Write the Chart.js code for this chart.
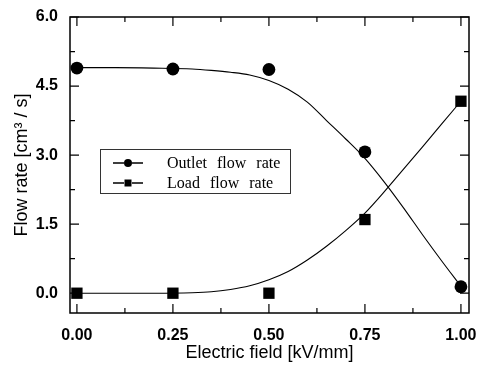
<!DOCTYPE html>
<html>
<head>
<meta charset="utf-8">
<script src="https://cdn.jsdelivr.net/npm/chart.js@4/dist/chart.umd.min.js"></script>
<style>
html,body{margin:0;padding:0;background:#fff;}
#wrap{width:479px;height:367px;position:relative;}
</style>
</head>
<body>
<div id="wrap"><canvas id="c" width="479" height="367"></canvas></div>
<script>
// Measured points
const fieldValues = [0, 0.25, 0.5, 0.75, 1.0];
const outletFlow = [4.89, 4.87, 4.86, 3.07, 0.14];
const loadFlow = [0, 0, 0, 1.6, 4.17];
// Fitted curves
const fitField = [0, 0.1, 0.2, 0.3, 0.35, 0.4, 0.45, 0.5, 0.55, 0.6, 0.65, 0.7, 0.75, 0.8, 0.85, 0.9, 0.95, 1.0];
const outletFit = [4.9, 4.9, 4.89, 4.87, 4.84, 4.8, 4.74, 4.62, 4.43, 4.15, 3.75, 3.35, 2.93, 2.42, 1.86, 1.27, 0.7, 0.15];
const loadFit = [0, 0, 0, 0.01, 0.03, 0.08, 0.16, 0.29, 0.47, 0.72, 1.02, 1.36, 1.74, 2.2, 2.69, 3.18, 3.68, 4.17];
// Ticks
const xTicks = [0, 0.25, 0.5, 0.75, 1.0];
const xMinorTicks = [0.125, 0.375, 0.625, 0.875];
const yTicks = [0, 1.5, 3.0, 4.5, 6.0];
const yMinorTicks = [0.75, 2.25, 3.75, 5.25];
const seriesNames = ['Outlet flow rate', 'Load flow rate'];

const toXY = (xs, ys) => xs.map((x, i) => ({x: x, y: ys[i]}));

const framePlugin = {
  id: 'frame',
  afterDatasetsDraw(chart) {
    const {ctx, chartArea: a, scales: {x, y}} = chart;
    ctx.save();
    ctx.strokeStyle = '#000';
    ctx.lineWidth = 1.5;
    ctx.strokeRect(a.left, a.top, a.right - a.left, a.bottom - a.top);
    ctx.lineWidth = 1.2;
    ctx.beginPath();
    const tx = (v, len) => {
      const p = x.getPixelForValue(v);
      ctx.moveTo(p, a.bottom); ctx.lineTo(p, a.bottom - len);
      ctx.moveTo(p, a.top); ctx.lineTo(p, a.top + len);
    };
    const ty = (v, len) => {
      const p = y.getPixelForValue(v);
      ctx.moveTo(a.left, p); ctx.lineTo(a.left + len, p);
      ctx.moveTo(a.right, p); ctx.lineTo(a.right - len, p);
    };
    xTicks.forEach(v => tx(v, 9));
    xMinorTicks.forEach(v => tx(v, 5));
    yTicks.forEach(v => ty(v, 9));
    yMinorTicks.forEach(v => ty(v, 5));
    ctx.stroke();

    // legend box
    const bx = 100, by = 149, bw = 190, bh = 44;
    ctx.fillStyle = '#fff';
    ctx.fillRect(bx, by, bw, bh);
    ctx.lineWidth = 1;
    ctx.strokeStyle = '#333';
    ctx.strokeRect(bx + 0.5, by + 0.5, bw, bh);
    const rows = [{y: 163, shape: 'circle'}, {y: 183, shape: 'rect'}];
    ctx.font = '16px "Liberation Serif", "Times New Roman", serif';
    if ('wordSpacing' in ctx) ctx.wordSpacing = '6px';
    ctx.textBaseline = 'middle';
    rows.forEach((r, i) => {
      ctx.strokeStyle = '#000';
      ctx.lineWidth = 1.4;
      ctx.beginPath();
      ctx.moveTo(113, r.y); ctx.lineTo(124, r.y);
      ctx.moveTo(132, r.y); ctx.lineTo(143, r.y);
      ctx.stroke();
      ctx.fillStyle = '#000';
      ctx.beginPath();
      if (r.shape === 'circle') ctx.arc(128, r.y, 4, 0, Math.PI * 2);
      else ctx.rect(124.5, r.y - 3.5, 7, 7);
      ctx.fill();
      ctx.fillText(seriesNames[i], 167, r.y + 1);
    });
    ctx.restore();
  }
};

new Chart(document.getElementById('c'), {
  type: 'scatter',
  data: {
    datasets: [
      {label: 'Outlet fit', data: toXY(fitField, outletFit), showLine: true, cubicInterpolationMode: 'monotone', borderColor: '#000', borderWidth: 1.1, pointRadius: 0},
      {label: 'Load fit', data: toXY(fitField, loadFit), showLine: true, cubicInterpolationMode: 'monotone', borderColor: '#000', borderWidth: 1.1, pointRadius: 0},
      {label: seriesNames[0], data: toXY(fieldValues, outletFlow), showLine: false, pointStyle: 'circle', pointRadius: 6.4, backgroundColor: '#000', borderColor: '#000', borderWidth: 0},
      {label: seriesNames[1], data: toXY(fieldValues, loadFlow), showLine: false, pointStyle: 'rect', pointRadius: 8, backgroundColor: '#000', borderColor: '#000', borderWidth: 0}
    ]
  },
  options: {
    responsive: false,
    animation: false,
    devicePixelRatio: 1,
    layout: {padding: {top: 17, right: 10, left: 0, bottom: 0}, autoPadding: false},
    plugins: {legend: {display: false}, tooltip: {enabled: false}},
    scales: {
      x: {
        type: 'linear', min: -0.018, max: 1.021,
        afterBuildTicks: s => { s.ticks = xTicks.map(v => ({value: v})); },
        afterFit: s => { s.height = 54; s.paddingLeft = 0; s.paddingRight = 0; },
        grid: {display: false, drawTicks: false},
        border: {display: false},
        ticks: {color: '#000', padding: 13, font: {family: '"Liberation Sans", Arial, sans-serif', size: 16, weight: 'bold'}, callback: v => v.toFixed(2)},
        title: {display: true, text: 'Electric field [kV/mm]', color: '#000', font: {family: '"Liberation Sans", Arial, sans-serif', size: 18}, padding: {top: 0, bottom: 3}}
      },
      y: {
        type: 'linear', min: -0.43, max: 6.0,
        afterBuildTicks: s => { s.ticks = yTicks.map(v => ({value: v})); },
        afterFit: s => { s.width = 70; s.paddingTop = 0; s.paddingBottom = 0; },
        grid: {display: false, drawTicks: false},
        border: {display: false},
        ticks: {color: '#000', padding: 12, font: {family: '"Liberation Sans", Arial, sans-serif', size: 16, weight: 'bold'}, callback: v => v.toFixed(1)},
        title: {display: true, text: 'Flow rate [cm³ / s]', color: '#000', font: {family: '"Liberation Sans", Arial, sans-serif', size: 18}, padding: {top: 11, bottom: 0}}
      }
    }
  },
  plugins: [framePlugin]
});
</script>
</body>
</html>
